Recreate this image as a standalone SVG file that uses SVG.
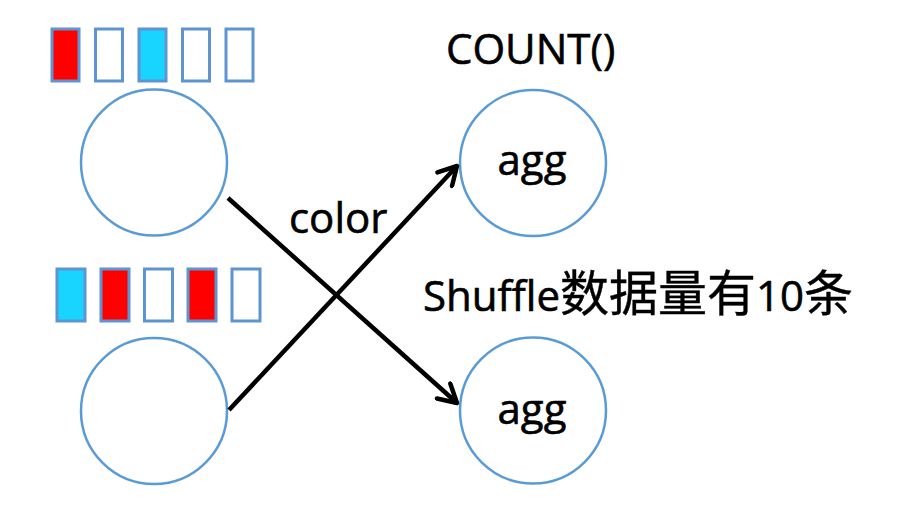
<svg xmlns="http://www.w3.org/2000/svg" width="902" height="521" viewBox="0 0 902 521">
<style>
.box{stroke:#5E94D2;stroke-width:3;}
.w{fill:#FFFFFF;}
.r{fill:#FF0000;}
.c{fill:#17D5FF;}
.node{fill:#FFFFFF;stroke:#5B9BD5;stroke-width:2.5;}
.t{font-family:"Open Sans","Liberation Sans",sans-serif;font-size:42px;fill:#000;stroke:#000;stroke-width:0.6;}
.cjk{font-family:"Noto Sans CJK SC",sans-serif;font-size:49px;stroke-width:0.4;}
.edge{stroke:#000;stroke-width:4.5;fill:none;marker-end:url(#arr);}
</style>
<defs>
<marker id="arr" markerUnits="userSpaceOnUse" viewBox="-22 -12 26 24" refX="0" refY="0" markerWidth="26" markerHeight="24" orient="auto">
<polyline points="-18,-10 0,0 -18,10" fill="none" stroke="#000" stroke-width="4.5" stroke-linecap="round" stroke-linejoin="round"/>
</marker>
</defs>
<rect width="902" height="521" fill="#FFFFFF"/>
<g id="src1">
<rect class="box r" x="52" y="29" width="27" height="52"/>
<rect class="box w" x="95.5" y="29" width="27" height="52"/>
<rect class="box c" x="139" y="29" width="27" height="52"/>
<rect class="box w" x="182.5" y="29" width="27" height="52"/>
<rect class="box w" x="226" y="29" width="27" height="52"/>
<circle class="node" cx="154" cy="162.5" r="73"/>
</g>
<g id="src2">
<rect class="box c" x="57" y="269" width="28" height="52"/>
<rect class="box r" x="101" y="269" width="28" height="52"/>
<rect class="box w" x="144.5" y="269" width="28" height="52"/>
<rect class="box r" x="188" y="269" width="28" height="52"/>
<rect class="box w" x="232" y="269" width="28" height="52"/>
<circle class="node" cx="154" cy="411" r="73"/>
</g>
<g id="agg1">
<circle class="node" cx="533" cy="163" r="73"/>
<text class="t" x="532" y="175" text-anchor="middle">agg</text>
</g>
<g id="agg2">
<circle class="node" cx="533" cy="410.5" r="73"/>
<text class="t" x="532" y="424" text-anchor="middle">agg</text>
</g>
<g id="labels">
<text class="t" x="446" y="64">COUNT()</text>
<text class="t" x="289" y="233">color</text>
<text class="t" x="423" y="311">Shuffle<tspan class="cjk">数据量有</tspan>10<tspan class="cjk">条</tspan></text>
</g>
<g id="connectors">
<line class="edge" x1="228" y1="198" x2="457" y2="403"/>
<line class="edge" x1="229" y1="410" x2="457" y2="166"/>
</g>
</svg>
